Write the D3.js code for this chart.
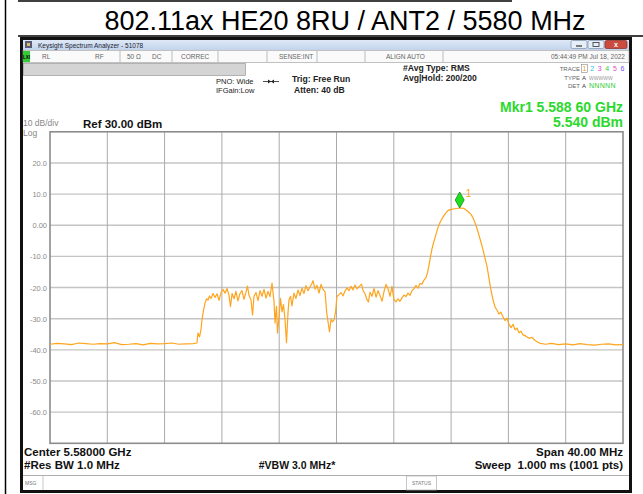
<!DOCTYPE html>
<html>
<head>
<meta charset="utf-8">
<script src="https://cdn.jsdelivr.net/npm/d3@7"></script>
<style>
  body { margin: 0; background: #fff; }
  svg text { font-family: "Liberation Sans", Arial, sans-serif; white-space: pre; }
</style>
</head>
<body>
<svg id="chart" width="643" height="494"></svg>
<script>
// === Data ===
const TITLE = "802.11ax HE20 8RU / ANT2 / 5580 MHz";
const freqRangeMHz = [5560, 5600];          // center 5.58 GHz, span 40 MHz
const levelRangeDbm = [-70, 30];            // ref 30 dBm, 10 dB/div
const xGridFreqs = [5564, 5568, 5572, 5576, 5580, 5584, 5588, 5592, 5596];
const yTickValues = [20, 10, 0, -10, -20, -30, -40, -50, -60];
const yTickLabels = ["20.0", "10.0", "0.00", "-10.0", "-20.0", "-30.0", "-40.0", "-50.0", "-60.0"];
const yGridValues = [20, 10, 0, -10, -20, -30, -40, -50, -60];

// trace 1 (MHz, dBm)
const traceFreq = [
  5560.0, 5560.5, 5561.0, 5561.5, 5562.0, 5562.5, 5563.0, 5563.5, 5564.0, 5564.5,
  5565.0, 5565.5, 5566.0, 5566.5, 5567.0, 5567.5, 5568.0, 5568.5, 5569.0, 5569.5,
  5570.0, 5570.26, 5570.33, 5570.44, 5570.54, 5570.61, 5570.72, 5570.82, 5570.93, 5571.03,
  5571.13, 5571.24, 5571.38, 5571.52, 5571.66, 5571.80, 5571.94, 5572.08, 5572.22, 5572.36,
  5572.50, 5572.60, 5572.71, 5572.85, 5572.98, 5573.12, 5573.26, 5573.40, 5573.54, 5573.68,
  5573.79, 5573.89, 5574.03, 5574.14, 5574.24, 5574.38, 5574.52, 5574.66, 5574.80, 5574.94,
  5575.08, 5575.22, 5575.36, 5575.50, 5575.64, 5575.71, 5575.81, 5575.88, 5575.99, 5576.09,
  5576.20, 5576.30, 5576.40, 5576.51, 5576.61, 5576.68, 5576.79, 5576.89, 5577.03, 5577.17,
  5577.31, 5577.45, 5577.59, 5577.73, 5577.87, 5578.01, 5578.15, 5578.29, 5578.36, 5578.50,
  5578.64, 5578.78, 5578.92, 5579.06, 5579.20, 5579.32, 5579.41, 5579.51, 5579.62, 5579.72,
  5579.83, 5579.93, 5580.03, 5580.17, 5580.31, 5580.45, 5580.59, 5580.73, 5580.87, 5581.01,
  5581.15, 5581.29, 5581.43, 5581.57, 5581.75, 5581.85, 5581.99, 5582.13, 5582.23, 5582.34,
  5582.48, 5582.62, 5582.76, 5582.90, 5583.04, 5583.18, 5583.32, 5583.46, 5583.60, 5583.74,
  5583.87, 5584.01, 5584.15, 5584.29, 5584.43, 5584.57, 5584.71, 5584.85, 5584.99, 5585.13,
  5585.27, 5585.41, 5585.55, 5585.69, 5585.83, 5585.97, 5586.11, 5586.25, 5586.35, 5586.46,
  5586.56, 5586.67, 5586.77, 5586.91, 5587.09, 5587.26, 5587.43, 5587.61, 5587.78, 5587.99,
  5588.27, 5588.60, 5588.90, 5589.18, 5589.39, 5589.53, 5589.70, 5589.88, 5590.05, 5590.23,
  5590.37, 5590.51, 5590.61, 5590.72, 5590.82, 5590.93, 5591.07, 5591.20, 5591.34, 5591.48,
  5591.62, 5591.76, 5591.90, 5592.04, 5592.18, 5592.32, 5592.46, 5592.60, 5592.74, 5592.88,
  5593.02, 5593.23, 5593.44, 5593.65, 5593.86, 5594.00, 5594.21, 5594.6, 5595.0, 5595.5,
  5596.0, 5596.5, 5597.0, 5597.5, 5598.0, 5598.5, 5599.0, 5599.5, 5600.0
];
const traceLevel = [
  -38.2, -37.9, -38.1, -38.3, -37.8, -38.0, -38.2, -38.0, -38.1, -37.7,
  -38.3, -38.2, -38.0, -38.4, -37.9, -38.1, -38.0, -37.8, -38.2, -38.1,
  -38.0, -37.8, -34.6, -35.8, -33.5, -30.4, -27.2, -25.0, -23.6, -24.0,
  -22.7, -23.5, -21.9, -23.2, -22.0, -24.1, -21.6, -20.6, -21.8, -20.3,
  -22.6, -26.1, -21.9, -23.6, -21.2, -24.3, -22.0, -21.0, -23.8, -21.5,
  -19.5, -22.5, -23.9, -28.8, -22.8, -21.6, -24.2, -21.0, -22.8, -20.6,
  -23.4, -21.2, -22.9, -18.6, -24.6, -31.4, -26.0, -34.6, -29.4, -23.5,
  -27.8, -25.5, -30.0, -37.7, -28.5, -24.0, -22.8, -25.9, -21.8, -23.5,
  -20.8, -22.6, -20.2, -21.9, -19.4, -21.0, -19.8, -18.6, -17.8, -20.5,
  -19.3, -21.8, -19.0, -20.6, -21.4, -28.2, -31.0, -34.2, -30.2, -31.0,
  -30.4, -28.0, -22.9, -22.3, -21.6, -22.7, -21.2, -20.1, -21.0, -19.6,
  -20.8, -19.2, -20.4, -19.7, -18.9, -20.9, -22.0, -23.9, -24.6, -21.5,
  -22.8, -20.3, -23.1, -21.0, -22.6, -24.4, -21.2, -19.0, -20.4, -22.8,
  -19.6, -23.8, -24.6, -23.6, -24.4, -23.3, -22.4, -22.9, -21.8, -22.5,
  -21.0, -20.4, -19.3, -20.2, -18.7, -18.9, -17.6, -16.8, -15.3, -12.8,
  -10.1, -7.5, -5.7, -3.5, -0.6, 1.2, 2.6, 3.8, 4.7, 5.1,
  5.3, 5.54, 5.4, 4.4, 3.5, 2.3, 0.5, -2.1, -4.9, -7.9,
  -10.6, -13.3, -16.0, -19.2, -21.6, -24.0, -26.3, -27.2, -28.5, -27.9,
  -29.4, -30.6, -29.8, -31.7, -32.9, -31.8, -33.6, -33.0, -34.5, -34.0,
  -35.2, -35.6, -36.3, -36.0, -37.0, -37.4, -37.9, -38.2, -37.9, -38.3,
  -38.1, -38.4, -38.0, -38.3, -38.5, -38.2, -38.1, -38.4, -38.3
];

const markerFreq = 5588.60;
const markerLevel = 5.540;

// === Layout ===
const PLOT = { left: 50, right: 623, top: 131.8, bottom: 443.3 };
const TRACE_COLOR = '#ffa41c';
const MKR_GREEN = '#2bd92b';

const svg = d3.select('#chart');

const x = d3.scaleLinear().domain(freqRangeMHz).range([PLOT.left, PLOT.right]);
const y = d3.scaleLinear().domain(levelRangeDbm).range([PLOT.bottom, PLOT.top]);

// --- document table lines + title ---
svg.append('line').attr('x1', 5.5).attr('x2', 5.5).attr('y1', 0).attr('y2', 494)
  .attr('stroke', '#000').attr('stroke-width', 1.5);
svg.append('line').attr('x1', 18).attr('x2', 512).attr('y1', 1).attr('y2', 1)
  .attr('stroke', '#000').attr('stroke-width', 1.5);
svg.append('line').attr('x1', 18).attr('x2', 643).attr('y1', 36).attr('y2', 36)
  .attr('stroke', '#000').attr('stroke-width', 1.5);
svg.append('text').attr('x', 345).attr('y', 29.5).attr('text-anchor', 'middle')
  .attr('font-size', 27).attr('fill', '#000').text(TITLE);

// --- analyzer window ---
const win = svg.append('g');
win.append('rect').attr('x', 21.5).attr('y', 38.5).attr('width', 609).attr('height', 453)
  .attr('fill', '#fff').attr('stroke', '#111').attr('stroke-width', 3);

const defs = svg.append('defs');
const grad = defs.append('linearGradient').attr('id', 'tb').attr('x1', 0).attr('x2', 0).attr('y1', 0).attr('y2', 1);
grad.append('stop').attr('offset', '0%').attr('stop-color', '#dfe9f6');
grad.append('stop').attr('offset', '100%').attr('stop-color', '#c2d4ec');

win.append('rect').attr('x', 23).attr('y', 40).attr('width', 606).attr('height', 10).attr('fill', 'url(#tb)');
win.append('rect').attr('x', 25).attr('y', 41).attr('width', 7).attr('height', 7).attr('fill', '#5a5a7a');
win.append('rect').attr('x', 27).attr('y', 43).attr('width', 3).attr('height', 3).attr('fill', '#d8c060');
win.append('text').attr('x', 38).attr('y', 47.5).attr('font-size', 6.5).attr('fill', '#223')
  .text('Keysight Spectrum Analyzer - 51078');

// window buttons
win.append('rect').attr('x', 571).attr('y', 40.5).attr('width', 16).attr('height', 8).attr('rx', 1.5)
  .attr('fill', '#e6eef8').attr('stroke', '#7d8fae').attr('stroke-width', 0.7);
win.append('line').attr('x1', 576).attr('x2', 582).attr('y1', 46).attr('y2', 46).attr('stroke', '#333').attr('stroke-width', 1.2);
win.append('rect').attr('x', 588).attr('y', 40.5).attr('width', 16).attr('height', 8).attr('rx', 1.5)
  .attr('fill', '#e6eef8').attr('stroke', '#7d8fae').attr('stroke-width', 0.7);
win.append('rect').attr('x', 593).attr('y', 42.5).attr('width', 6).attr('height', 4)
  .attr('fill', 'none').attr('stroke', '#333').attr('stroke-width', 0.8);
win.append('rect').attr('x', 605).attr('y', 40.5).attr('width', 22).attr('height', 8).attr('rx', 1.5)
  .attr('fill', '#cc4b3f').attr('stroke', '#8a2a22').attr('stroke-width', 0.7);
win.append('text').attr('x', 616).attr('y', 47.3).attr('text-anchor', 'middle')
  .attr('font-size', 7).attr('font-weight', 'bold').attr('fill', '#fff').text('x');

// status row
win.append('rect').attr('x', 23).attr('y', 50.5).attr('width', 606).attr('height', 12)
  .attr('fill', '#fafafa').attr('stroke', '#9a9a9a').attr('stroke-width', 0.6);
win.append('rect').attr('x', 23).attr('y', 51).attr('width', 7).attr('height', 11).attr('fill', '#33cc33');
win.append('text').attr('x', 26.5).attr('y', 58.5).attr('text-anchor', 'middle')
  .attr('font-size', 4.5).attr('font-weight', 'bold').attr('fill', '#000').text('LXI');
[120, 172, 218, 267, 317, 365, 443].forEach(sx => {
  win.append('line').attr('x1', sx).attr('x2', sx).attr('y1', 51).attr('y2', 62)
    .attr('stroke', '#a0a0a0').attr('stroke-width', 0.7);
});
const statusRow = win.append('g').attr('font-size', 6.5).attr('fill', '#666');
[['RL', 42], ['RF', 95], ['50 \u03a9', 127], ['DC', 152], ['CORREC', 181], ['SENSE:INT', 279], ['ALIGN AUTO', 386]]
  .forEach(([t, sx]) => statusRow.append('text').attr('x', sx).attr('y', 59).text(t));
statusRow.append('text').attr('x', 625).attr('y', 59).attr('text-anchor', 'end')
  .text('05:44:49 PM Jul 18, 2022');

// gray message bar
win.append('rect').attr('x', 23.5).attr('y', 63.5).attr('width', 222).attr('height', 12)
  .attr('fill', '#d4d4d4').attr('stroke', '#9a9a9a').attr('stroke-width', 0.7);

// settings text
const info = win.append('g').attr('fill', '#222');
info.append('text').attr('x', 216).attr('y', 84).attr('font-size', 7.5).text('PNO: Wide');
info.append('text').attr('x', 216).attr('y', 93).attr('font-size', 7.5).text('IFGain:Low');
info.append('line').attr('x1', 263).attr('x2', 279).attr('y1', 81.5).attr('y2', 81.5).attr('stroke', '#222').attr('stroke-width', 0.8);
info.append('path').attr('d', 'M268,79.5 L271,81.5 L268,83.5 Z M274,79.5 L271,81.5 L274,83.5 Z').attr('fill', '#222');
info.append('text').attr('x', 292).attr('y', 82).attr('font-size', 8.6).attr('font-weight', 'bold').text('Trig: Free Run');
info.append('text').attr('x', 294).attr('y', 92.5).attr('font-size', 8.6).attr('font-weight', 'bold').text('Atten: 40 dB');
info.append('text').attr('x', 403).attr('y', 71).attr('font-size', 8.6).attr('font-weight', 'bold').text('#Avg Type: RMS');
info.append('text').attr('x', 403).attr('y', 81).attr('font-size', 8.6).attr('font-weight', 'bold').text('Avg|Hold: 200/200');

// trace legend block
const tr = win.append('g').attr('font-size', 6);
tr.append('text').attr('x', 580).attr('y', 71).attr('text-anchor', 'end').attr('fill', '#666').text('TRACE');
tr.append('text').attr('x', 580).attr('y', 79.5).attr('text-anchor', 'end').attr('fill', '#666').text('TYPE');
tr.append('text').attr('x', 580).attr('y', 88).attr('text-anchor', 'end').attr('fill', '#666').text('DET');
tr.append('rect').attr('x', 581.5).attr('y', 64.5).attr('width', 6).attr('height', 8)
  .attr('fill', 'none').attr('stroke', '#888').attr('stroke-width', 0.6);
const traceNums = ['1', '2', '3', '4', '5', '6'];
const traceNumColors = ['#f0a020', '#19c3e6', '#e040e0', '#33cc33', '#e050c0', '#7050ff'];
traceNums.forEach((t, i) => {
  tr.append('text').attr('x', 584.5 + i * 7.6).attr('y', 71).attr('text-anchor', 'middle')
    .attr('font-size', 7).attr('fill', traceNumColors[i]).text(t);
});
tr.append('text').attr('x', 582).attr('y', 79.5).attr('fill', '#333').text('A');
tr.append('text').attr('x', 589).attr('y', 79.5).attr('fill', '#999').attr('font-size', 5).text('WWWWW');
tr.append('text').attr('x', 582).attr('y', 88).attr('fill', '#333').text('A');
tr.append('text').attr('x', 589).attr('y', 88).attr('fill', '#33cc33').attr('font-size', 7).attr('letter-spacing', 0.3).text('NNNNN');

// marker readout
const mkrGHz = (markerFreq / 1000).toFixed(5);
win.append('text').attr('x', 623).attr('y', 112).attr('text-anchor', 'end')
  .attr('font-size', 14).attr('font-weight', 'bold').attr('fill', MKR_GREEN)
  .text(`Mkr1 ${mkrGHz.slice(0, 5)} ${mkrGHz.slice(5)} GHz`);
win.append('text').attr('x', 623).attr('y', 127).attr('text-anchor', 'end')
  .attr('font-size', 14).attr('font-weight', 'bold').attr('fill', MKR_GREEN)
  .text(`${markerLevel.toFixed(3)} dBm`);

// scale header
win.append('text').attr('x', 23).attr('y', 125.5).attr('font-size', 8.5).attr('fill', '#888').text('10 dB/div');
win.append('text').attr('x', 23).attr('y', 135.5).attr('font-size', 8.5).attr('fill', '#888').text('Log');
win.append('text').attr('x', 83).attr('y', 128).attr('font-size', 11.5).attr('font-weight', 'bold').attr('fill', '#111')
  .text('Ref 30.00 dBm');

// === Graticule ===
const grid = svg.append('g');
grid.selectAll('line.h').data(yGridValues).join('line').attr('class', 'h')
  .attr('x1', PLOT.left).attr('x2', PLOT.right)
  .attr('y1', d => y(d)).attr('y2', d => y(d))
  .attr('stroke', '#c4c4c4').attr('stroke-width', 1.4);
grid.selectAll('line.v').data(xGridFreqs).join('line').attr('class', 'v')
  .attr('x1', d => x(d)).attr('x2', d => x(d))
  .attr('y1', PLOT.top).attr('y2', PLOT.bottom)
  .attr('stroke', '#ababab').attr('stroke-width', 1);
grid.append('rect').attr('x', PLOT.left).attr('y', PLOT.top)
  .attr('width', PLOT.right - PLOT.left).attr('height', PLOT.bottom - PLOT.top)
  .attr('fill', 'none').attr('stroke', '#8c8c8c').attr('stroke-width', 1.6);

// y tick labels
svg.append('g').selectAll('text').data(yTickValues).join('text')
  .attr('x', 47).attr('y', d => y(d) + 3)
  .attr('text-anchor', 'end').attr('font-size', 7.5).attr('fill', '#8a8a8a')
  .text((d, i) => yTickLabels[i]);

// === Trace ===
const traceData = traceFreq.map((f, i) => [f, traceLevel[i]]);
svg.append('path').datum(traceData)
  .attr('fill', 'none').attr('stroke', TRACE_COLOR).attr('stroke-width', 1.2)
  .attr('stroke-linejoin', 'round')
  .attr('d', d3.line().x(d => x(d[0])).y(d => y(d[1])));

// marker diamond
const mx = x(markerFreq), my = y(markerLevel);
svg.append('path')
  .attr('d', `M${mx},${my - 16} L${mx + 4.5},${my - 8} L${mx},${my} L${mx - 4.5},${my - 8} Z`)
  .attr('fill', '#1ee01e').attr('stroke', '#0c7a0c').attr('stroke-width', 0.7);
svg.append('text').attr('x', mx + 6).attr('y', my - 11).attr('font-size', 10)
  .attr('fill', TRACE_COLOR).text('1');

// === Footer ===
const foot = svg.append('g').attr('font-weight', 'bold').attr('fill', '#111').attr('font-size', 11.5);
foot.append('text').attr('x', 24).attr('y', 456).text('Center 5.58000 GHz');
foot.append('text').attr('x', 24).attr('y', 469).text('#Res BW 1.0 MHz');
foot.append('text').attr('x', 297).attr('y', 469).attr('text-anchor', 'middle').attr('font-size', 10.5).text('#VBW 3.0 MHz*');
foot.append('text').attr('x', 623).attr('y', 456).attr('text-anchor', 'end').text('Span 40.00 MHz');
foot.append('text').attr('x', 623).attr('y', 469).attr('text-anchor', 'end').text('Sweep  1.000 ms (1001 pts)');

svg.append('line').attr('x1', 23).attr('x2', 629).attr('y1', 475.5).attr('y2', 475.5)
  .attr('stroke', '#9a9a9a').attr('stroke-width', 0.8);
svg.append('line').attr('x1', 43).attr('x2', 43).attr('y1', 476).attr('y2', 490)
  .attr('stroke', '#b0b0b0').attr('stroke-width', 0.7);
svg.append('rect').attr('x', 406.5).attr('y', 476).attr('width', 30).attr('height', 14)
  .attr('fill', 'none').attr('stroke', '#b0b0b0').attr('stroke-width', 0.7);
svg.append('text').attr('x', 25).attr('y', 485).attr('font-size', 5).attr('fill', '#777').text('MSG');
svg.append('text').attr('x', 421.5).attr('y', 485).attr('text-anchor', 'middle').attr('font-size', 5).attr('fill', '#777').text('STATUS');
</script>
</body>
</html>
